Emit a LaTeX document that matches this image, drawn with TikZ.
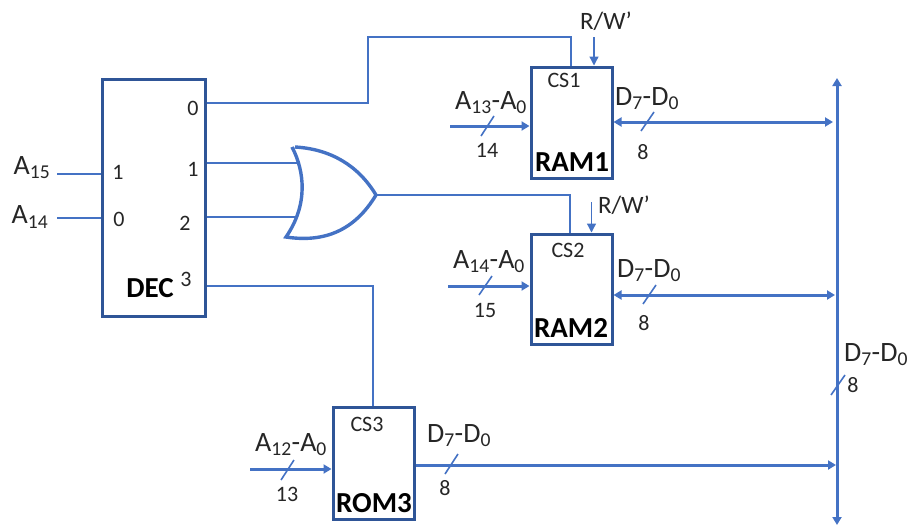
\documentclass[tikz,border=0pt]{standalone}
\usepackage{fontspec}
\setmainfont{Carlito}
\usetikzlibrary{arrows.meta}
\definecolor{wire}{HTML}{4472C4}
\definecolor{boxc}{HTML}{2F5597}
\tikzset{
  box/.style={draw=boxc,line width=3pt,fill=white,inner sep=0pt},
  thin wire/.style={draw=wire,line width=2pt},
  bus/.style={draw=wire,line width=3pt},
  ctl/.style={draw=wire,line width=1.3pt,-{Triangle[length=9pt,width=9pt]}},
  slash/.style={draw=wire,line width=1.6pt},
  lbl/.style={inner sep=0pt,font=\fontsize{25}{28}\selectfont,text=black!85},
  big/.style={inner sep=0pt,font=\fontsize{28}{31}\selectfont,text=black!85},
  small/.style={inner sep=0pt,font=\fontsize{22}{25}\selectfont,text=black!85},
  title/.style={inner sep=0pt,font=\fontsize{29}{32}\selectfont\bfseries,text=black},
  tip/.style={-{Triangle[length=8pt,width=9pt]}},
  tips/.style={{Triangle[length=8pt,width=9pt]}-{Triangle[length=8pt,width=9pt]}},
}
\newcommand{\sbs}[1]{\textsubscript{#1}}
\begin{document}
\begin{tikzpicture}[x=1pt,y=-1pt]
\useasboundingbox (0,0) rectangle (907,525);
% boxes
\node[box,minimum width=103pt,minimum height=237pt] (dec) at (153.5,197.5) {};
\node[box,minimum width=81pt,minimum height=111pt] (ram1) at (571.5,122.5) {};
\node[box,minimum width=81pt,minimum height=110pt] (ram2) at (571.5,289) {};
\node[box,minimum width=81pt,minimum height=112pt] (rom3) at (373.5,463) {};
% free ends and ports
\coordinate (inA15) at (57,174);
\coordinate (inA14) at (57,218);
\coordinate (orTop) at (292,147);
\coordinate (orBot) at (286,237);
\coordinate (orTip) at (376,195);
\coordinate (orIn1) at (297,163);
\coordinate (orIn2) at (298,217);
\coordinate (rw1) at (594,37);
\coordinate (rw2) at (591.5,202);
\coordinate (aIn1) at (450,126);
\coordinate (aIn2) at (448,286);
\coordinate (aIn3) at (250,469);
\coordinate (busTop) at (837,78);
\coordinate (busBot) at (837,525);
\coordinate (busR1) at (833,122);
\coordinate (busR2) at (835,295);
\coordinate (busR3) at (836,465);
% decoder inputs
\draw[thin wire] (inA15) -- (inA15 -| dec.west);
\draw[thin wire] (inA14) -- (inA14 -| dec.west);
% decoder outputs
\draw[thin wire] (dec.east |- 0,103) -- (368,103) -- (368,37) -- (571,37) -- (571,0 |- ram1.north);
\draw[thin wire] (orIn1 -| dec.east) -- (orIn1);
\draw[thin wire] (orIn2 -| dec.east) -- (orIn2);
\draw[thin wire] (orTip) -- (570,195) -- (570,0 |- ram2.north);
\draw[thin wire] (dec.east |- 0,286) -- (373,286) -- (373,0 |- rom3.north);
% OR gate
\draw[draw=wire,line width=3.4pt,line join=miter] (orTop) .. controls (305,172) and (308,205) .. (orBot)
  .. controls (325,243) and (355,230) .. (orTip)
  .. controls (358,165) and (330,149) .. (295,147);
% R/W'
\draw[ctl] (rw1) -- (rw1 |- ram1.north);
\draw[ctl] (rw2) -- (rw2 |- ram2.north);
% address inputs
\draw[bus,tip] (aIn1) -- (aIn1 -| ram1.west);
\draw[bus,tip] (aIn2) -- (aIn2 -| ram2.west);
\draw[bus,tip] (aIn3) -- (aIn3 -| rom3.west);
% data
\draw[bus,tips] (busR1 -| ram1.east) -- (busR1);
\draw[bus,tips] (busR2 -| ram2.east) -- (busR2);
\draw[bus,tip] (busR3 -| rom3.east) -- (busR3);
\draw[bus,tips] (busTop) -- (busBot);
% slashes
\draw[slash] (481,136) -- (494,116);
\draw[slash] (479,295) -- (492,276);
\draw[slash] (281,480) -- (294,460);
\draw[slash] (641,131) -- (654,112);
\draw[slash] (643,304) -- (656,285);
\draw[slash] (445,474) -- (458,454);
\draw[slash] (831,395) -- (845,375);
% labels
\node[big] (tA15) at (32,168) {A\sbs{15}};
\node[big] (tA14) at (30,217) {A\sbs{14}};
\node[small] (d1) at (118,172) {1};
\node[small] (d0) at (119,219) {0};
\node[small] (q0) at (193,108) {0};
\node[small] (q1) at (193,169) {1};
\node[small] (q2) at (185,223) {2};
\node[small] (q3) at (186,279) {3};
\node[title] (tdec) at (150,288) {DEC};
\node[lbl] (trw1) at (606,21) {R/W’};
\node[lbl] (trw2) at (624,205) {R/W’};
\node[small] (cs1) at (564,80) {CS1};
\node[small] (cs2) at (568,250) {CS2};
\node[small] (cs3) at (367,424) {CS3};
\node[title] (t1) at (572,162) {RAM1};
\node[title] (t2) at (571,328) {RAM2};
\node[title] (t3) at (374,503) {ROM3};
\node[big] (a1) at (491,103) {A\sbs{13}-A\sbs{0}};
\node[big] (a2) at (489,262) {A\sbs{14}-A\sbs{0}};
\node[big] (a3) at (291,445) {A\sbs{12}-A\sbs{0}};
\node[big] (d1l) at (647,99) {D\sbs{7}-D\sbs{0}};
\node[big] (d2l) at (649,271) {D\sbs{7}-D\sbs{0}};
\node[big] (d3l) at (459,436) {D\sbs{7}-D\sbs{0}};
\node[big] (d4l) at (876,355) {D\sbs{7}-D\sbs{0}};
\node[small] (n14) at (487,150) {14};
\node[small] (n15) at (485,310) {15};
\node[small] (n13) at (287,494) {13};
\node[small] (n81) at (643,152) {8};
\node[small] (n82) at (644,323) {8};
\node[small] (n83) at (445,488) {8};
\node[small] (n84) at (853,385) {8};
\end{tikzpicture}
\end{document}
